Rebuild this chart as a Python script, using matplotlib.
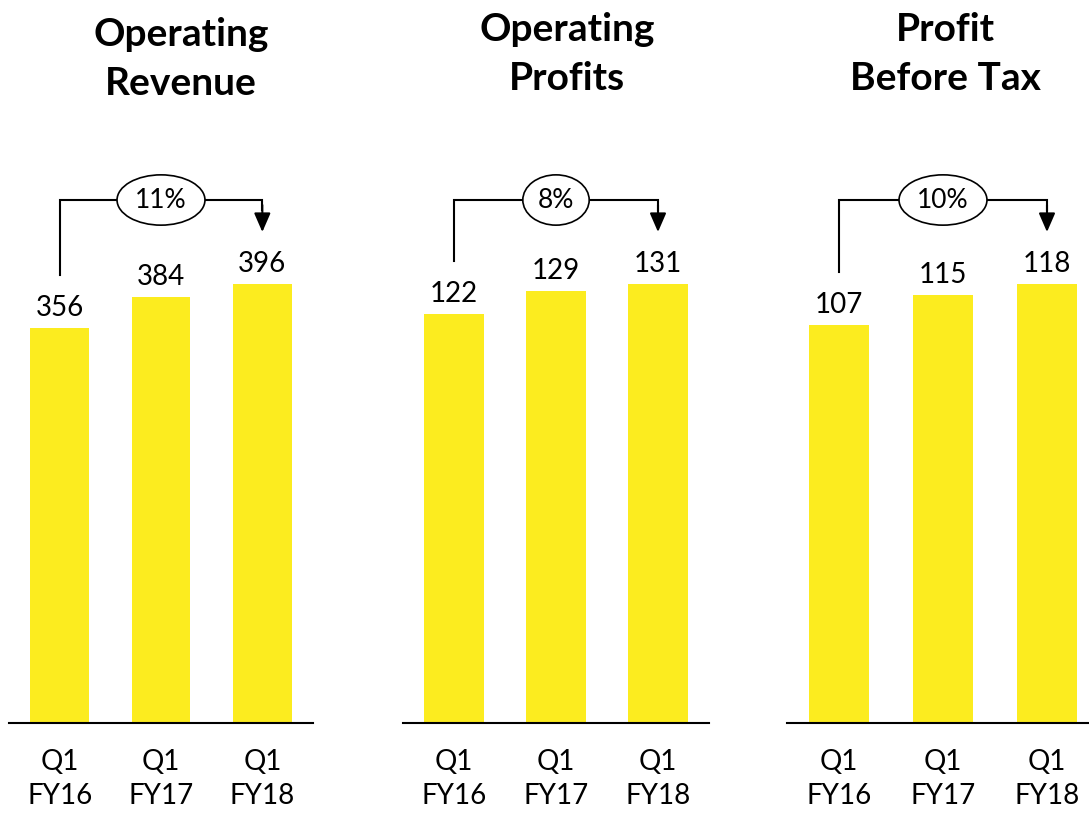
import matplotlib.pyplot as plt

plt.rcParams['font.family'] = ['Lato', 'DejaVu Sans']

periods = ['Q1\nFY16', 'Q1\nFY17', 'Q1\nFY18']
titles = [['Operating', 'Revenue'], ['Operating', 'Profits'], ['Profit', 'Before Tax']]
revenue = [356, 384, 396]
op_profits = [122, 129, 131]
pbt = [107, 115, 118]
growth = ['11%', '8%', '10%']

series = [revenue, op_profits, pbt]
bar_color = '#FCEC1F'

fig = plt.figure(figsize=(10.89, 8.16), dpi=100)
W, H = 1089, 816

# panel geometry in pixels: left, width
panels = [(9, 304), (403, 306), (787, 312)]
title_x = [181, 567, 945]
title_base = [(46, 95), (41, 90), (41, 90)]
base_px, top_px = 723, 100
tall_px = 439  # pixel height of tallest bar

for k, (vals, (left, width)) in enumerate(zip(series, panels)):
    ax = fig.add_axes([left / W, 1 - base_px / H, width / W, (base_px - top_px) / H])
    vmax = max(vals)
    px = vmax / tall_px  # data units per pixel
    ax.bar(range(3), vals, width=0.58, color=bar_color, zorder=2)
    ax.set_xlim(-0.5, 2.5)
    ax.set_ylim(0, px * (base_px - top_px))

    for s in ['top', 'right', 'left']:
        ax.spines[s].set_visible(False)
    ax.spines['bottom'].set_linewidth(1.5)
    ax.set_yticks([])
    ax.set_xticks(range(3), labels=periods, fontsize=20, linespacing=1.38)
    ax.tick_params(axis='x', length=0, pad=19)

    for i, v in enumerate(vals):
        ax.annotate(str(v), (i, v), xytext=(0, 5), textcoords='offset points',
                    ha='center', va='bottom', fontsize=20)

    # growth bracket
    level = px * (base_px - 200)
    y0 = vals[0] + 53 * px
    tip = vals[2] + 52 * px
    ax.plot([0, 0, 2, 2], [y0, level, level, level - 10 * px], color='black', lw=1.5,
            solid_joinstyle='miter', zorder=3)
    ax.annotate('', xy=(2, tip), xytext=(2, level - 5 * px),
                arrowprops=dict(arrowstyle='-|>,head_length=1.15,head_width=0.5',
                                color='black', lw=1.5, shrinkA=0, shrinkB=0,
                                mutation_scale=10), zorder=3)
    ax.text(1, level, growth[k], ha='center', va='center', fontsize=19, zorder=4,
            bbox=dict(boxstyle='ellipse,pad=0.2', fc='white', ec='black', lw=1.2))

    for line, yb in zip(titles[k], title_base[k]):
        fig.text(title_x[k] / W, 1 - yb / H, line, ha='center', va='baseline',
                 fontsize=28, fontweight='bold')

fig.savefig('out.png', dpi=100)
